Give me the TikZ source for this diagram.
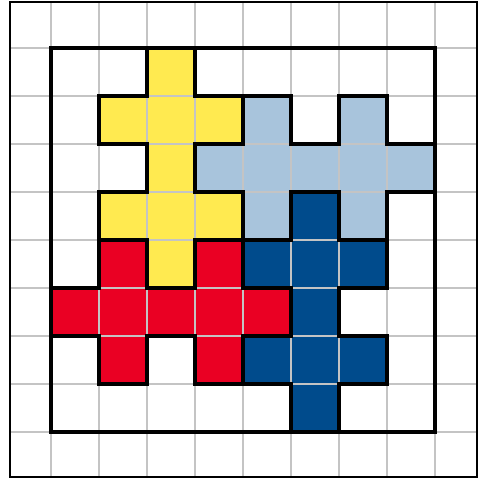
\documentclass[tikz,border=0pt]{standalone}
\usepackage{tikz}
\usepackage{xcolor}
\definecolor{sunny}{HTML}{FFEA50}
\definecolor{skyblue}{HTML}{A8C4DC}
\definecolor{navy}{HTML}{004B8C}
\definecolor{cherry}{HTML}{EA0023}
\definecolor{gridgray}{HTML}{C4C4C4}

\begin{document}
\begin{tikzpicture}[
    piece/.style={line width=2.8pt, line join=miter},
    gridline/.style={gridgray, line width=1pt}
  ]
    % Canvas
    \useasboundingbox (-0.0625,0) rectangle (9.958,-9.979);
    \fill[white] (-0.0625,0) rectangle (9.958,-9.979);

    % Pieces
    \fill[sunny] (3,-1) -- (4,-1) -- (4,-2) -- (5,-2) -- (5,-3) -- (4,-3) -- (4,-4) -- (5,-4) -- (5,-5) -- (4,-5)
        -- (4,-6) -- (3,-6) -- (3,-5) -- (2,-5) -- (2,-4) -- (3,-4) -- (3,-3) -- (2,-3) -- (2,-2) -- (3,-2) -- cycle;
    \fill[skyblue] (5,-2) -- (6,-2) -- (6,-3) -- (7,-3) -- (7,-2) -- (8,-2) -- (8,-3) -- (9,-3) -- (9,-4) -- (8,-4)
        -- (8,-5) -- (7,-5) -- (7,-4) -- (6,-4) -- (6,-5) -- (5,-5) -- (5,-4) -- (4,-4) -- (4,-3) -- (5,-3) -- cycle;
    \fill[navy] (6,-4) -- (7,-4) -- (7,-5) -- (8,-5) -- (8,-6) -- (7,-6) -- (7,-7) -- (8,-7) -- (8,-8) -- (7,-8)
        -- (7,-9) -- (6,-9) -- (6,-8) -- (5,-8) -- (5,-7) -- (6,-7) -- (6,-6) -- (5,-6) -- (5,-5) -- (6,-5) -- cycle;
    \fill[cherry] (2,-5) -- (3,-5) -- (3,-6) -- (4,-6) -- (4,-5) -- (5,-5) -- (5,-6) -- (6,-6) -- (6,-7) -- (5,-7)
        -- (5,-8) -- (4,-8) -- (4,-7) -- (3,-7) -- (3,-8) -- (2,-8) -- (2,-7) -- (1,-7) -- (1,-6) -- (2,-6) -- cycle;

    % Grid
    \draw[gridline, step=1] (0.146,-9.94) grid (9.875,-0.042);

    % Outlines
    \draw[piece] (3,-1) -- (4,-1) -- (4,-2) -- (5,-2) -- (5,-3) -- (4,-3) -- (4,-4) -- (5,-4) -- (5,-5) -- (4,-5)
        -- (4,-6) -- (3,-6) -- (3,-5) -- (2,-5) -- (2,-4) -- (3,-4) -- (3,-3) -- (2,-3) -- (2,-2) -- (3,-2) -- cycle;
    \draw[piece] (5,-2) -- (6,-2) -- (6,-3) -- (7,-3) -- (7,-2) -- (8,-2) -- (8,-3) -- (9,-3) -- (9,-4) -- (8,-4)
        -- (8,-5) -- (7,-5) -- (7,-4) -- (6,-4) -- (6,-5) -- (5,-5) -- (5,-4) -- (4,-4) -- (4,-3) -- (5,-3) -- cycle;
    \draw[piece] (6,-4) -- (7,-4) -- (7,-5) -- (8,-5) -- (8,-6) -- (7,-6) -- (7,-7) -- (8,-7) -- (8,-8) -- (7,-8)
        -- (7,-9) -- (6,-9) -- (6,-8) -- (5,-8) -- (5,-7) -- (6,-7) -- (6,-6) -- (5,-6) -- (5,-5) -- (6,-5) -- cycle;
    \draw[piece] (2,-5) -- (3,-5) -- (3,-6) -- (4,-6) -- (4,-5) -- (5,-5) -- (5,-6) -- (6,-6) -- (6,-7) -- (5,-7)
        -- (5,-8) -- (4,-8) -- (4,-7) -- (3,-7) -- (3,-8) -- (2,-8) -- (2,-7) -- (1,-7) -- (1,-6) -- (2,-6) -- cycle;

    % Board and frame
    \draw[piece] (1,-1) rectangle (9,-9);
    \draw[line width=1.3pt] (0.146,-0.042) rectangle (9.875,-9.94);
\end{tikzpicture}
\end{document}
